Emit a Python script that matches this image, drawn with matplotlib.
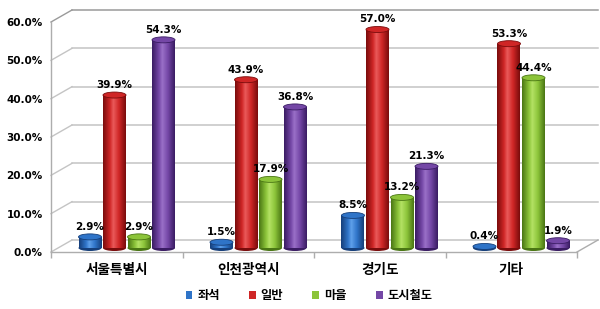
import numpy as np
import matplotlib
matplotlib.use('Agg')
import matplotlib.pyplot as plt
from matplotlib.patches import Ellipse, Patch
from matplotlib.transforms import ScaledTranslation
from matplotlib.colors import LinearSegmentedColormap

plt.rcParams['font.family'] = ['Noto Sans CJK KR', 'DejaVu Sans']

# data
regions = ['서울특별시', '인천광역시', '경기도', '기타']
series = ['좌석', '일반', '마을', '도시철도']
jwaseok = [2.9, 1.5, 8.5, 0.4]
ilban = [39.9, 43.9, 57.0, 53.3]
maeul = [2.9, 17.9, 13.2, 44.4]
dosi = [54.3, 36.8, 21.3, 1.9]
values = [jwaseok, ilban, maeul, dosi]
yticks = [0, 10, 20, 30, 40, 50, 60]

base = ['#2f74c8', '#cf2626', '#8cc43a', '#7447a6']
dark = ['#163f7a', '#7a0c0c', '#4a7614', '#3a1c63']
light = ['#5fa0ea', '#ea5a5a', '#b4e264', '#9a70c8']

W, H = 600, 309
fig = plt.figure(figsize=(W / 100, H / 100), dpi=100)
x0, x1, yb, yt = 51, 577, 252, 22
ax = fig.add_axes([x0 / W, (H - yb) / H, (x1 - x0) / W, (yb - yt) / H])
ax.set_xlim(0, 4)
ax.set_ylim(0, 60)

# depth offsets (px -> data units)
ux = (x1 - x0) / 4.0
uy = (yb - yt) / 60.0
dx, dy = 21 / ux, 12 / uy
grid_c = '#c4c4c4'
edge_c = '#adadad'

# back wall grid + left wall diagonals
for t in yticks:
    c = '#9a9a9a' if t == 60 else grid_c
    ax.plot([dx, 4 + dx], [t + dy, t + dy], color=c, lw=1.1, clip_on=False, zorder=0.5)
    ax.plot([0, dx], [t, t + dy], color=c, lw=1.0, clip_on=False, zorder=0.5)
ax.plot([0, 0], [0, 60], color=edge_c, lw=1.0, clip_on=False, zorder=0.6)
# floor
ax.plot([0, 4], [0, 0], color=edge_c, lw=1.0, clip_on=False, zorder=0.6)
ax.plot([4, 4 + dx], [0, dy], color=edge_c, lw=1.0, clip_on=False, zorder=0.6)

# bars sit in the middle of the depth
trans = ax.transData + ScaledTranslation(10 / 100, 4 / 100, fig.dpi_scale_trans)
centers = np.arange(len(regions)) + 0.5
step = 24.5 / ux
bw = 23.0 / ux
eh = 6.0 / uy
grad = np.linspace(0, 1, 64).reshape(1, -1)

for i, vals in enumerate(values):
    xs = centers + (i - 1.5) * step
    cmap = LinearSegmentedColormap.from_list(
        's%d' % i, [(0, dark[i]), (0.3, base[i]), (0.45, light[i]), (0.7, base[i]), (1, dark[i])])
    bars = ax.bar(xs, vals, width=bw, color=base[i], transform=trans, zorder=2)
    for x, v, rect in zip(xs, vals, bars):
        ax.add_patch(Ellipse((x, 0), bw, eh, facecolor=dark[i], edgecolor='none',
                             transform=trans, zorder=1.9))
        im = ax.imshow(grad, extent=(x - bw / 2, x + bw / 2, 0, v), transform=trans,
                       aspect='auto', cmap=cmap, zorder=2.1)
        im.set_clip_path(rect)
        ax.add_patch(Ellipse((x, v), bw, eh, facecolor=base[i], edgecolor=dark[i],
                             lw=0.6, transform=trans, zorder=2.2))
        ax.annotate('%.1f%%' % v, xy=(x, v + eh / 2), xycoords=trans, xytext=(0, 1.5),
                    textcoords='offset points', ha='center', va='bottom',
                    fontsize=7.5, fontweight='bold', family='DejaVu Sans', zorder=5)

ax.set_xlim(0, 4)
ax.set_ylim(0, 60)
ax.set_aspect('auto')

for s in ax.spines.values():
    s.set_visible(False)
ax.set_yticks(yticks)
ax.set_yticklabels(['%.1f%%' % t for t in yticks], fontsize=7.5, fontweight='bold',
                   family='DejaVu Sans')
ax.tick_params(axis='y', length=0, pad=6)
ax.set_xticks(centers)
ax.set_xticklabels(regions, fontsize=9.8, fontweight='bold')
ax.tick_params(axis='x', which='major', length=0, pad=8)
ax.set_xticks([0, 1, 2, 3, 4], minor=True)
ax.tick_params(axis='x', which='minor', length=4, color=edge_c, width=1.0)

handles = [Patch(facecolor=c, edgecolor='none') for c in base]
fig.legend(handles, series, loc='center', bbox_to_anchor=(0.515, 0.043), ncol=4,
           frameon=False, handlelength=0.55, handleheight=0.55, handletextpad=0.4,
           columnspacing=2.4, prop={'size': 8.8, 'weight': 'bold'})

fig.savefig('out.png', dpi=100)
